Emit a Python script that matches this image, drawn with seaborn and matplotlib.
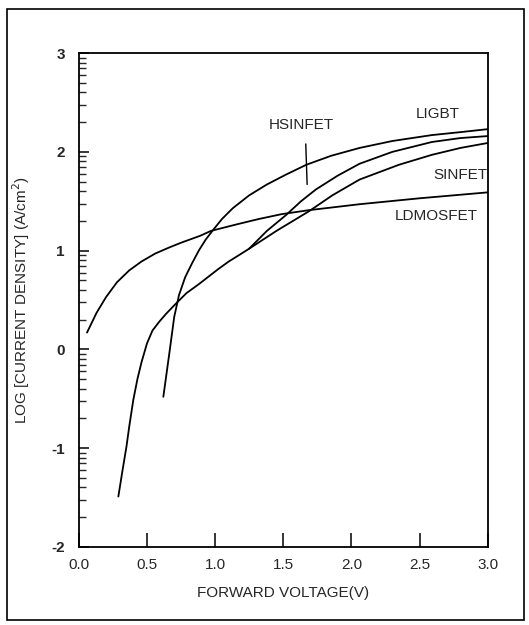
import numpy as np
import pandas as pd
import matplotlib
matplotlib.use("Agg")
import matplotlib.pyplot as plt
from matplotlib.patches import Rectangle
import seaborn as sns

# Curve data (x: forward voltage in V, y: log current density)
ldmos_x = [0.06, 0.13, 0.20, 0.28, 0.37, 0.46, 0.56, 0.66, 0.75, 0.89, 0.97, 1.17, 1.32,
           1.49, 1.69, 2.06, 2.50, 3.00]
ldmos_y = [0.17, 0.37, 0.53, 0.68, 0.80, 0.89, 0.97, 1.03, 1.08, 1.15, 1.20, 1.27, 1.32,
           1.37, 1.41, 1.47, 1.53, 1.59]

ligbt_x = [0.62, 0.665, 0.70, 0.735, 0.78, 0.83, 0.88, 0.93, 0.98, 1.05, 1.13,
           1.25, 1.38, 1.52, 1.67, 1.85, 2.06, 2.30, 2.59, 2.80, 3.00]
ligbt_y = [-0.48, -0.03, 0.33, 0.55, 0.73, 0.87, 1.00, 1.11, 1.20, 1.32, 1.43,
           1.56, 1.67, 1.77, 1.87, 1.96, 2.04, 2.11, 2.17, 2.20, 2.23]

sinfet_x = [0.29, 0.32, 0.35, 0.37, 0.40, 0.43, 0.46, 0.50, 0.54, 0.59, 0.64, 0.71, 0.79,
            0.88, 1.02, 1.10, 1.17, 1.25, 1.45, 1.69, 1.86, 2.06, 2.35, 2.59, 2.80, 3.00]
sinfet_y = [-1.49, -1.23, -0.98, -0.78, -0.51, -0.30, -0.13, 0.06, 0.19, 0.28, 0.36, 0.46,
            0.57, 0.66, 0.81, 0.89, 0.95, 1.02, 1.20, 1.40, 1.56, 1.72, 1.87, 1.97, 2.04, 2.09]

hsinfet_x = [1.25, 1.38, 1.52, 1.63, 1.74, 1.90, 2.06, 2.30, 2.59, 2.80, 3.00]
hsinfet_y = [1.02, 1.20, 1.36, 1.50, 1.62, 1.76, 1.88, 2.00, 2.10, 2.14, 2.16]

x_ticks = [0.0, 0.5, 1.0, 1.5, 2.0, 2.5, 3.0]
y_ticks = [-2, -1, 0, 1, 2, 3]

curves = {
    "LDMOSFET": (ldmos_x, ldmos_y),
    "LIGBT": (ligbt_x, ligbt_y),
    "SINFET": (sinfet_x, sinfet_y),
    "HSINFET": (hsinfet_x, hsinfet_y),
}

sns.set_theme(style="white")
plt.rcParams['font.family'] = ['Liberation Sans', 'DejaVu Sans']

fig = plt.figure(figsize=(5.29, 6.25), dpi=100)
ax = fig.add_axes([0.149, 0.125, 0.773, 0.79])

for name, (xs, ys) in curves.items():
    df = pd.DataFrame({"x": xs, "y": ys})
    sns.lineplot(data=df, x="x", y="y", ax=ax, color="black", linewidth=1.3,
                 estimator=None, sort=False)

ax.set_xlim(0, 3.0)
ax.set_ylim(-2, 3)
ax.set_xticks(x_ticks)
ax.set_xticklabels([f"{v:.1f}" for v in x_ticks])
ax.set_yticks(y_ticks)
ax.set_yticklabels([str(v) for v in y_ticks], fontweight='bold')

# log-style minor ticks between the decades
minor = [n + np.log10(k) for n in range(-2, 3) for k in range(2, 10)]
ax.set_yticks(minor, minor=True)

ax.tick_params(axis='x', direction='in', length=10, width=1.3, labelsize=11, pad=8,
               bottom=True, top=False)
ax.tick_params(axis='y', which='major', direction='in', length=7, width=1.3,
               labelsize=11, pad=10, left=True, right=False)
ax.tick_params(axis='y', which='minor', direction='in', length=5, width=1.0,
               left=True, right=False)

for s in ax.spines.values():
    s.set_color("black")
    s.set_linewidth(1.3)

ax.set_xlabel("FORWARD VOLTAGE(V)", fontsize=11, labelpad=10)
ax.set_ylabel("LOG [CURRENT DENSITY] (A/cm$^{2}$)", fontsize=11, labelpad=14)

# curve labels
ax.text(2.63, 2.38, "LIGBT", fontsize=11, ha='center', va='center')
ax.text(1.63, 2.27, "HSINFET", fontsize=11, ha='center', va='center')
ax.text(2.80, 1.77, "SINFET", fontsize=11, ha='center', va='center')
ax.text(2.62, 1.35, "LDMOSFET", fontsize=11, ha='center', va='center')
ax.plot([1.665, 1.675], [2.08, 1.67], color="black", linewidth=1.0)

# outer frame of the scanned figure
fig.add_artist(Rectangle((0.013, 0.008), 0.977, 0.977, transform=fig.transFigure,
                         fill=False, edgecolor="black", linewidth=1.2))

fig.savefig("out.png", dpi=100)
